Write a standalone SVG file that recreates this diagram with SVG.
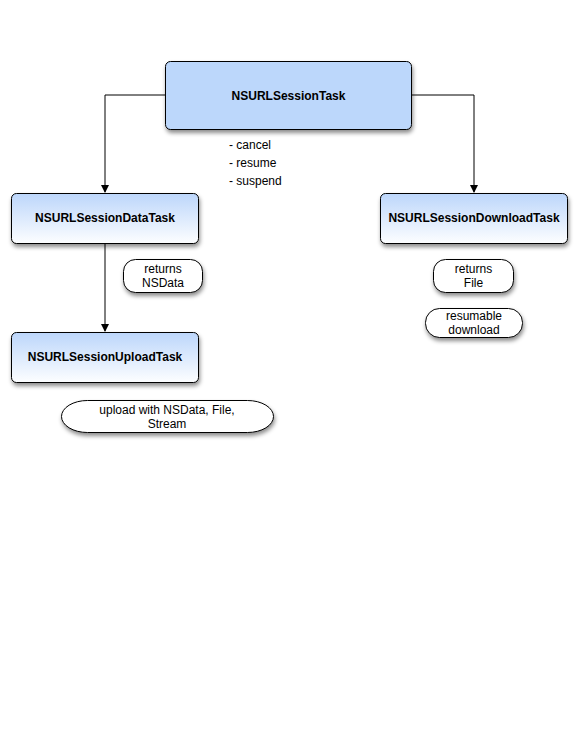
<svg xmlns="http://www.w3.org/2000/svg" width="576" height="733" viewBox="0 0 576 733">
<style>
.box{stroke:#000;stroke-width:1;filter:url(#sh)}
.pill{fill:#fff;stroke:#000;stroke-width:1;filter:url(#sh)}
.t{font-family:"Liberation Sans",Arial,sans-serif;font-size:12px;font-weight:bold;fill:#000;text-anchor:middle}
.s{font-family:"Liberation Sans",Arial,sans-serif;font-size:12px;fill:#000;text-anchor:middle}
.l{font-family:"Liberation Sans",Arial,sans-serif;font-size:12px;fill:#000}
.c{fill:none;stroke:#000;stroke-width:1}
</style>
<defs>
<filter id="sh" x="-20%" y="-30%" width="140%" height="170%">
<feDropShadow dx="1" dy="3" stdDeviation="2" flood-color="#000" flood-opacity="0.45"/>
</filter>
<linearGradient id="g" x1="0" y1="0" x2="0" y2="1">
<stop offset="0" stop-color="#bcd6fb"/>
<stop offset="1" stop-color="#fdfeff"/>
</linearGradient>
<marker id="a" markerWidth="8" markerHeight="10" refX="7" refY="4" orient="auto" markerUnits="userSpaceOnUse">
<path d="M0,0 L8,4 L0,8 Z" fill="#000"/>
</marker>
</defs>
<rect width="576" height="733" fill="#fff"/>
<g id="connectors">
<path class="c" d="M165,95 H105 V192" marker-end="url(#a)"/>
<path class="c" d="M411,95 H474 V192" marker-end="url(#a)"/>
<path class="c" d="M105,243 V331" marker-end="url(#a)"/>
</g>
<g id="task">
<rect class="box" x="165.5" y="61.5" width="246" height="68" rx="5" fill="#bcd7fb"/>
<text class="t" x="288.5" y="99.5">NSURLSessionTask</text>
</g>
<g id="methods">
<text class="l" x="229" y="149">- cancel</text>
<text class="l" x="229" y="167">- resume</text>
<text class="l" x="229" y="185">- suspend</text>
</g>
<g id="dataTask">
<rect class="box" x="11.5" y="193.5" width="187" height="50" rx="5" fill="url(#g)"/>
<text class="t" x="105" y="222">NSURLSessionDataTask</text>
</g>
<g id="returnsNSData">
<rect class="pill" x="123.5" y="259.5" width="79" height="33" rx="12" ry="12"/>
<text class="s" x="163" y="273">returns</text>
<text class="s" x="163" y="287">NSData</text>
</g>
<g id="uploadTask">
<rect class="box" x="11.5" y="332.5" width="187" height="50" rx="5" fill="url(#g)"/>
<text class="t" x="105" y="361">NSURLSessionUploadTask</text>
</g>
<g id="uploadWith">
<rect class="pill" x="61.5" y="400.5" width="212" height="32" rx="26" ry="16"/>
<text class="s" x="167" y="414">upload with NSData, File,</text>
<text class="s" x="167" y="428">Stream</text>
</g>
<g id="downloadTask">
<rect class="box" x="380.5" y="193.5" width="187" height="50" rx="5" fill="url(#g)"/>
<text class="t" x="474" y="222">NSURLSessionDownloadTask</text>
</g>
<g id="returnsFile">
<rect class="pill" x="433.5" y="259.5" width="80" height="33" rx="12" ry="12"/>
<text class="s" x="473.5" y="273">returns</text>
<text class="s" x="473.5" y="287">File</text>
</g>
<g id="resumable">
<rect class="pill" x="425.5" y="308.5" width="97" height="29" rx="14" ry="14"/>
<text class="s" x="474" y="320">resumable</text>
<text class="s" x="474" y="334">download</text>
</g>
</svg>
